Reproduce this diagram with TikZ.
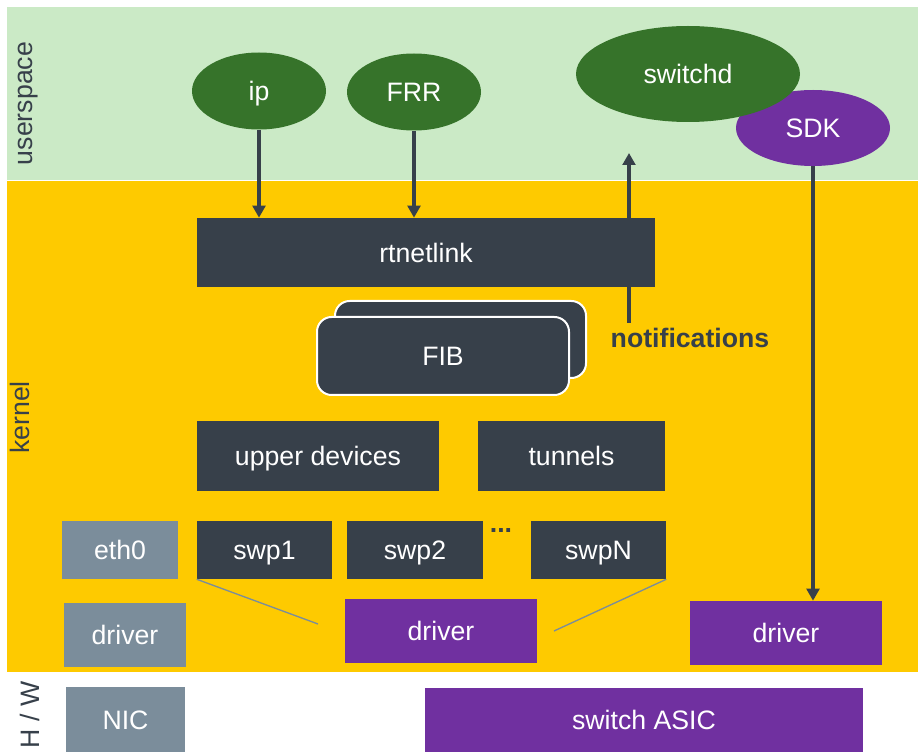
\documentclass[tikz,border=0pt]{standalone}
\usepackage{fontspec}
\setmainfont{Liberation Sans}
\usetikzlibrary{shapes.geometric,arrows.meta}
\definecolor{bggreen}{HTML}{CBEAC6}
\definecolor{bgyellow}{HTML}{FECA00}
\definecolor{darkbox}{HTML}{37404A}
\definecolor{appgreen}{HTML}{36732A}
\definecolor{asicpurple}{HTML}{7030A0}
\definecolor{nicgray}{HTML}{7B8D9B}
\begin{document}
\begin{tikzpicture}[x=0.75pt,y=-0.75pt,
  font=\fontsize{20}{24}\selectfont,
  every node/.style={inner sep=0pt, text height=14.3pt, text depth=0pt},
  sz/.style 2 args={minimum width=#1*0.75pt, minimum height=#2*0.75pt},
  dkbox/.style={fill=darkbox, text=white},
  gybox/.style={fill=nicgray, text=white},
  pubox/.style={fill=asicpurple, text=white},
  fibbox/.style={fill=darkbox, text=white, draw=white, line width=1.5pt, rounded corners=11pt},
  gell/.style={ellipse, fill=appgreen, text=white},
  pell/.style={ellipse, fill=asicpurple, text=white},
  lane/.style={text=darkbox, rotate=90},
  conn/.style={draw=darkbox, line width=2.6pt, -{Triangle[length=9pt,width=9.5pt]}},
  thin/.style={draw=nicgray, line width=1pt}]
\useasboundingbox (0,0) rectangle (918,752);
\fill[white] (0,0) rectangle (918,752);
\fill[bggreen] (7,7) rectangle (918,180);
\fill[bgyellow] (7,181) rectangle (918,672);
% lane labels
\node[lane] (lus) at (22.5,103.5) {userspace};
\node[lane] (lk) at (19.5,417.5) {kernel};
\node[lane] (lhw) at (30,715) {H / W};
% userspace
\node[gell, sz={134}{77}] (ip) at (259,91) {ip};
\node[gell, sz={134}{77}] (frr) at (414,92) {FRR};
\node[pell, sz={154}{76}] (sdk) at (813,128) {SDK};
\node[gell, sz={224}{96}] (switchd) at (688,74) {switchd};
% kernel
\node[dkbox, sz={458}{69}] (rtn) at (426,252.5) {rtnetlink};
\node[fibbox, sz={251}{77}] (fibback) at (460.5,339.5) {};
\node[fibbox, sz={252}{78}] (fib) at (443,356) {FIB};
\node[text=darkbox, font=\fontsize{20}{24}\selectfont\bfseries] (notif) at (690,338) {notifications};
\node[dkbox, sz={242}{70}] (upper) at (318,456) {upper devices};
\node[dkbox, sz={187}{70}] (tunnels) at (571.5,456) {tunnels};
\node[gybox, sz={116}{58}] (eth0) at (120,550) {eth0};
\node[dkbox, sz={135}{58}] (swp1) at (264.5,550) {swp1};
\node[dkbox, sz={136}{58}] (swp2) at (415,550) {swp2};
\node[text=darkbox, font=\fontsize{20}{24}\selectfont\bfseries, anchor=base] (dots) at (501,532) {...};
\node[dkbox, sz={135}{58}] (swpN) at (598.5,550) {swpN};
\node[gybox, sz={122}{64}] (gdrv) at (125,635) {driver};
\node[pubox, sz={192}{64}] (mdrv) at (441,631) {driver};
\node[pubox, sz={192}{64}] (rdrv) at (786,633) {driver};
% hardware
\node[gybox, sz={119}{65}] (nic) at (125.5,719.5) {NIC};
\node[pubox, sz={438}{64}] (asic) at (644,720) {switch ASIC};
% connectors
\coordinate (nbot) at (629,323);
\coordinate (ntop) at (629,153);
\coordinate (l1end) at (318,624);
\coordinate (l2end) at (554,631);
\draw[conn] (ip.south) -- (ip.south |- rtn.north);
\draw[conn] (frr.south) -- (frr.south |- rtn.north);
\draw[conn] (nbot) -- (ntop);
\draw[conn] (sdk.south) -- (sdk.south |- rdrv.north);
\draw[thin] (swp1.south west) -- (l1end);
\draw[thin] (swpN.south east) -- (l2end);
\end{tikzpicture}
\end{document}
